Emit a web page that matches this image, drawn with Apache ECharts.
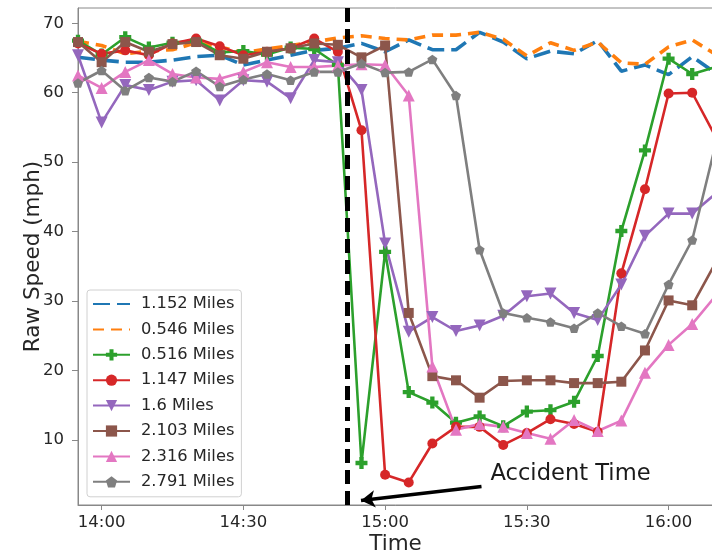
<!DOCTYPE html>
<html>
<head>
<meta charset="utf-8">
<script src="https://cdn.jsdelivr.net/npm/echarts@6/dist/echarts.min.js"></script>
<style>
  html, body { margin: 0; padding: 0; background: #fff; }
  #chart { width: 712px; height: 553px; }
</style>
</head>
<body>
<div id="chart"></div>
<script>
// sample times, every 5 minutes
var times = ['13:55', '14:00', '14:05', '14:10', '14:15', '14:20', '14:25', '14:30', '14:35', '14:40',
  '14:45', '14:50', '14:55', '15:00', '15:05', '15:10', '15:15', '15:20', '15:25', '15:30',
  '15:35', '15:40', '15:45', '15:50', '15:55', '16:00', '16:05', '16:10'];

var s1152 = [65.1, 64.7, 64.4, 64.4, 64.7, 65.2, 65.4, 64.0, 64.7, 65.4, 66.1, 66.4, 67.1, 65.9,
  67.6, 66.2, 66.2, 68.7, 67.3, 64.9, 66.0, 65.6, 67.5, 63.1, 64.0, 62.6, 65.2, 62.8];
var s0546 = [67.4, 66.8, 65.6, 66.0, 66.2, 67.2, 66.6, 65.8, 66.3, 66.8, 67.3, 67.9, 68.2, 67.8,
  67.6, 68.3, 68.3, 68.7, 67.7, 65.3, 67.2, 66.1, 67.3, 64.3, 64.1, 66.6, 67.6, 65.5];
var s0516 = [67.5, 65.5, 68.0, 66.5, 67.2, 67.5, 65.8, 66.0, 65.5, 66.5, 66.3, 64.0, 6.7, 37.1,
  16.9, 15.4, 12.5, 13.4, 12.0, 14.1, 14.3, 15.5, 22.1, 40.1, 51.7, 64.9, 62.7, 63.7];
var s1147 = [67.1, 65.6, 66.1, 65.4, 67.1, 67.8, 66.7, 65.4, 65.9, 66.4, 67.8, 65.9, 54.6, 5.0,
  3.9, 9.5, 11.9, 11.9, 9.3, 11.0, 13.0, 12.3, 11.2, 34.0, 46.1, 59.9, 60.0, 53.6];
var s16 = [65.4, 55.7, 61.1, 60.4, 61.6, 61.8, 58.9, 61.8, 61.6, 59.2, 64.7, 64.4, 60.4, 38.3,
  25.6, 27.7, 25.7, 26.5, 27.9, 30.7, 31.1, 28.3, 27.3, 32.4, 39.4, 42.6, 42.6, 45.5];
var s2103 = [67.3, 64.4, 67.3, 65.9, 67.0, 67.3, 65.4, 64.9, 65.9, 66.4, 67.1, 66.9, 65.1, 66.8,
  28.3, 19.2, 18.6, 16.1, 18.5, 18.6, 18.6, 18.2, 18.2, 18.4, 22.9, 30.1, 29.4, 35.6];
var s2316 = [62.5, 60.7, 63.0, 64.7, 62.7, 62.2, 62.0, 63.0, 64.4, 63.7, 63.7, 63.9, 64.1, 64.0,
  59.6, 20.6, 11.5, 12.3, 11.9, 11.0, 10.2, 12.9, 11.3, 12.8, 19.7, 23.7, 26.7, 30.8];
var s2791 = [61.4, 63.2, 60.3, 62.2, 61.6, 63.1, 60.9, 61.9, 62.7, 61.8, 63.0, 63.0, 64.2, 62.9,
  63.0, 64.8, 59.6, 37.4, 28.3, 27.6, 27.0, 26.1, 28.3, 26.4, 25.3, 32.4, 38.8, 52.7];

var names = ['1.152 Miles', '0.546 Miles', '0.516 Miles', '1.147 Miles', '1.6 Miles',
  '2.103 Miles', '2.316 Miles', '2.791 Miles'];
var xTicks = ['14:00', '14:30', '15:00', '15:30', '16:00'];
var yTicks = [10, 20, 30, 40, 50, 60, 70];
var accidentTime = '14:52';
var FONT = 'DejaVu Sans';

function toMin(s) {
  var p = s.split(':');
  return (+p[0]) * 60 + (+p[1]);
}
function fmt(m) {
  var h = Math.floor(m / 60), mm = Math.round(m % 60);
  return h + ':' + (mm < 10 ? '0' : '') + mm;
}
function pairs(vals) {
  var out = [];
  for (var i = 0; i < vals.length; i++) out.push([toMin(times[i]), vals[i]]);
  return out;
}

var PLUS = 'path://M-0.36,-1 L0.36,-1 L0.36,-0.36 L1,-0.36 L1,0.36 L0.36,0.36 L0.36,1 L-0.36,1 L-0.36,0.36 L-1,0.36 L-1,-0.36 L-0.36,-0.36 Z';
var PENTA = 'path://M0,-1 L0.951,-0.309 L0.588,0.809 L-0.588,0.809 L-0.951,-0.309 Z';

function markerSeries(name, vals, color, symbol, size, rotate) {
  return {
    name: name,
    type: 'line',
    data: pairs(vals),
    color: color,
    symbol: symbol,
    symbolSize: size,
    symbolRotate: rotate || 0,
    symbolKeepAspect: true,
    showAllSymbol: true,
    lineStyle: { width: 2.6, color: color },
    itemStyle: { color: color },
    emphasis: { disabled: true }
  };
}
function dashSeries(name, vals, color, dash) {
  return {
    name: name,
    type: 'line',
    data: pairs(vals),
    color: color,
    symbol: 'none',
    lineStyle: { width: 3.6, color: color, type: dash },
    itemStyle: { color: color },
    emphasis: { disabled: true }
  };
}

var chart = echarts.init(document.getElementById('chart'));

var legendData = names.map(function (n, i) {
  // dashed series: hide the default legend marker, keep the dashed line
  return i < 2 ? { name: n, itemStyle: { opacity: 0 } } : { name: n };
});

var option = {
  animation: false,
  textStyle: { fontFamily: FONT },
  grid: {
    left: 78, right: -1, top: 8, bottom: 48,
    outerBoundsMode: 'none',
    containLabel: false,
    show: true, borderColor: '#888', borderWidth: 1, backgroundColor: 'transparent'
  },
  legend: {
    data: legendData,
    orient: 'vertical',
    left: 87,
    top: 290,
    padding: [6, 7, 7, 5],
    itemWidth: 37,
    itemHeight: 14,
    itemGap: 9.4,
    backgroundColor: 'rgba(255,255,255,0.8)',
    borderColor: '#d0d0d0',
    borderWidth: 1,
    borderRadius: 3,
    textStyle: { fontFamily: FONT, fontSize: 16.3, color: '#262626', lineHeight: 16, padding: [0, 0, 0, 6] }
  },
  xAxis: {
    type: 'value',
    min: 835,
    max: 969.4,
    name: 'Time',
    nameLocation: 'middle',
    nameGap: 28,
    nameMoveOverlap: false,
    nameTextStyle: { fontFamily: FONT, fontSize: 21.5, color: '#262626' },
    splitLine: { show: false },
    axisLine: { lineStyle: { color: '#888' } },
    axisTick: { show: true, length: 5, lineStyle: { color: '#888' }, customValues: xTicks.map(toMin) },
    axisLabel: {
      fontFamily: FONT, fontSize: 16.5, color: '#262626', margin: 9,
      customValues: xTicks.map(toMin),
      formatter: function (v) { return fmt(v); }
    }
  },
  yAxis: {
    type: 'value',
    min: 0.65,
    max: 72.2,
    name: 'Raw Speed (mph)',
    nameLocation: 'middle',
    nameGap: 34,
    nameMoveOverlap: false,
    nameTextStyle: { fontFamily: FONT, fontSize: 21.5, color: '#262626' },
    splitLine: { show: false },
    axisLine: { show: true, lineStyle: { color: '#888' } },
    axisTick: { show: true, length: 6, lineStyle: { color: '#888' }, customValues: yTicks },
    axisLabel: {
      fontFamily: FONT, fontSize: 16.5, color: '#262626', margin: 14,
      customValues: yTicks
    }
  },
  series: [
    dashSeries(names[0], s1152, '#1f77b4', [17, 7]),
    dashSeries(names[1], s0546, '#ff7f0e', [11, 7]),
    markerSeries(names[2], s0516, '#2ca02c', PLUS, 12),
    markerSeries(names[3], s1147, '#d62728', 'circle', 10),
    markerSeries(names[4], s16, '#9467bd', 'triangle', 12, 180),
    markerSeries(names[5], s2103, '#8c564b', 'rect', 10),
    markerSeries(names[6], s2316, '#e377c2', 'triangle', 12),
    markerSeries(names[7], s2791, '#7f7f7f', PENTA, 10),
    {
      type: 'line',
      data: [],
      z: 10,
      silent: true,
      markLine: {
        silent: true,
        symbol: 'none',
        label: { show: false },
        emphasis: { disabled: true },
        lineStyle: { color: '#000', width: 5, type: [14, 7] },
        data: [{ xAxis: toMin(accidentTime) }]
      }
    },
    {
      type: 'line',
      data: [],
      z: 10,
      silent: true,
      markLine: {
        silent: true,
        label: { show: false },
        emphasis: { disabled: true },
        lineStyle: { color: '#000', width: 3.5, type: 'solid' },
        data: [[
          { coord: [920.4, 3.3], symbol: 'none' },
          { coord: [894.9, 1.3], symbol: 'arrow', symbolSize: [13, 14] }
        ]]
      },
      markPoint: {
        silent: true,
        symbol: 'circle',
        symbolSize: 0,
        data: [{ coord: [922.3, 5.1] }],
        label: {
          show: true,
          position: 'right',
          distance: 0,
          formatter: 'Accident Time',
          fontFamily: FONT,
          fontSize: 22.6,
          color: '#1a1a1a'
        }
      }
    }
  ]
};

chart.setOption(option);
</script>
</body>
</html>
